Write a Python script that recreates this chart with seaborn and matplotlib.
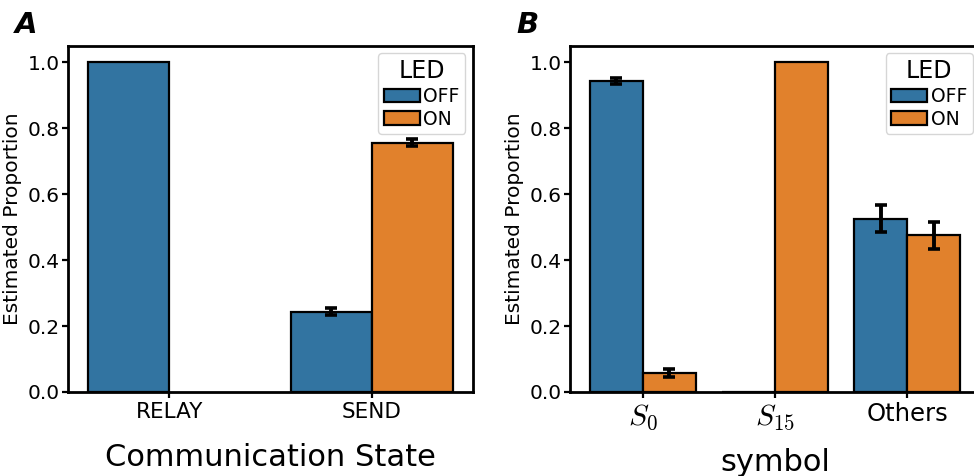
import pandas as pd
import seaborn as sns
import matplotlib.pyplot as plt

# panel A: communication state
state_cats = ['RELAY', 'SEND']
state_led = ['OFF', 'OFF', 'ON']
state_cat = ['RELAY', 'SEND', 'SEND']
state_val = [1.0, 0.244, 0.756]
state_err = [0.0, 0.010, 0.011]

# panel B: symbol
sym_cats = ['$S_0$', '$S_{15}$', 'Others']
sym_led = ['OFF', 'ON', 'OFF', 'ON', 'OFF', 'ON']
sym_cat = ['$S_0$', '$S_0$', '$S_{15}$', '$S_{15}$', 'Others', 'Others']
sym_val = [0.943, 0.057, 0.001, 1.0, 0.525, 0.475]
sym_err = [0.010, 0.013, 0.0, 0.0, 0.041, 0.041]

led_levels = ['OFF', 'ON']

sns.set_style('ticks')
plt.rcParams['font.family'] = ['DejaVu Sans']
plt.rcParams['mathtext.fontset'] = 'cm'
for k in ['text.color', 'axes.labelcolor', 'xtick.color', 'ytick.color']:
    plt.rcParams[k] = 'black'


def draw_panel(ax, cats, cat, led, val, err, xlabel, letter, xtick_size,
               xlabelpad):
    df = pd.DataFrame({'cat': cat, 'LED': led, 'val': val, 'err': err})
    sns.barplot(data=df, x='cat', y='val', hue='LED', order=cats,
                hue_order=led_levels, errorbar=None, edgecolor='black',
                linewidth=1.6, ax=ax)
    # error bars on top of each bar
    for level, cont in zip(led_levels, ax.containers):
        sub = df[df['LED'] == level]
        for bar in cont:
            xc = bar.get_x() + bar.get_width() / 2
            idx = int(round(xc))
            row = sub[sub['cat'] == cats[idx]]
            if len(row) == 0:
                continue
            e = row['err'].iloc[0]
            if e > 0:
                ax.errorbar(xc, row['val'].iloc[0], yerr=e, color='black',
                            elinewidth=2.8, capsize=4.0, capthick=2.6)
    ax.set_ylim(0, 1.05)
    ax.set_yticks([0, 0.2, 0.4, 0.6, 0.8, 1.0])
    ax.set_ylabel('Estimated Proportion', fontsize=14.5, labelpad=4)
    ax.set_xlabel(xlabel, fontsize=22, labelpad=xlabelpad)
    ax.tick_params(axis='both', width=1.6, length=4.3, color='black')
    ax.tick_params(axis='y', labelsize=14.5, pad=1.8)
    ax.tick_params(axis='x', labelsize=xtick_size, pad=3)
    for t in ax.get_xticklabels():
        if t.get_text().startswith('$'):
            t.set_fontsize(21.5)
    for s in ax.spines.values():
        s.set_linewidth(2.0)
        s.set_color('black')
    sns.move_legend(ax, 'upper right', title='LED', fontsize=13.5,
                    title_fontsize=17, handlelength=1.9, handletextpad=0.2,
                    labelspacing=0.2, borderpad=0.3, borderaxespad=0.4)
    ax.text(-0.13, 1.02, letter, transform=ax.transAxes, fontsize=21,
            fontweight='bold', fontstyle='italic', va='bottom', ha='left',
            color='black')


fig = plt.figure(figsize=(9.74, 4.76), dpi=100)
ax1 = fig.add_axes([0.0698, 0.1765, 0.4158, 0.727])
ax2 = fig.add_axes([0.5852, 0.1765, 0.421, 0.727])

draw_panel(ax1, state_cats, state_cat, state_led, state_val, state_err,
           'Communication State', 'A', 15.5, 15)
ax1.set_xlim(-0.5, 1.5)
draw_panel(ax2, sym_cats, sym_cat, sym_led, sym_val, sym_err, 'symbol', 'B',
           17.5, 12)
ax2.set_xlim(-0.55, 2.55)

fig.savefig('out.png', dpi=100)
